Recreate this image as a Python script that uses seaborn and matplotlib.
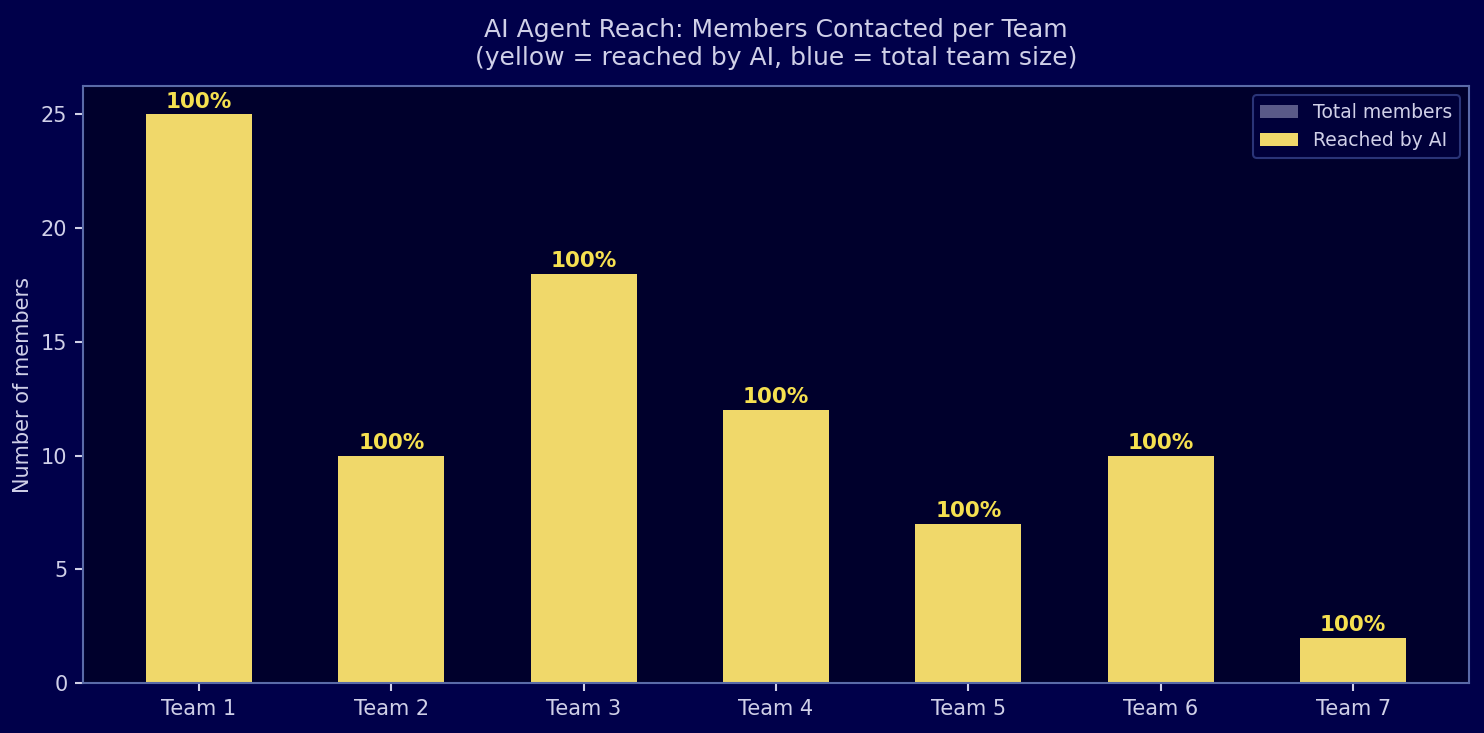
import matplotlib
matplotlib.use("Agg")
import matplotlib.pyplot as plt
import pandas as pd
import seaborn as sns

teams = ["Team 1", "Team 2", "Team 3", "Team 4", "Team 5", "Team 6", "Team 7"]
total_members = [25, 10, 18, 12, 7, 10, 2]
reached_by_ai = [25, 10, 18, 12, 7, 10, 2]

FIG_BG = "#00004a"
AX_BG = "#00002c"
SPINE = "#5a6aa8"
TEXT = "#d0d0e8"
YELLOW = "#f0d86a"
TOTAL = "#5a5a88"
PCT = "#f5e050"

sns.set_theme(style="dark")
plt.rcParams["font.family"] = ["DejaVu Sans"]

df = pd.DataFrame({"team": teams, "total": total_members, "reached": reached_by_ai})

fig, ax = plt.subplots(figsize=(1484 / 150, 733 / 150), dpi=150)
fig.patch.set_facecolor(FIG_BG)
ax.set_facecolor(AX_BG)
fig.subplots_adjust(left=83 / 1484, right=1469 / 1484, top=1 - 86 / 733, bottom=1 - 683 / 733)

# total team size drawn first, reached count on top
sns.barplot(data=df, x="team", y="total", color=TOTAL, width=0.55, saturation=1,
            linewidth=0, label="Total members", ax=ax)
sns.barplot(data=df, x="team", y="reached", color=YELLOW, width=0.55, saturation=1,
            linewidth=0, label="Reached by AI", ax=ax)

# percent labels above each bar
for i, (t, r) in enumerate(zip(total_members, reached_by_ai)):
    pct = 100 * r / t if t else 0
    ax.text(i, r + 0.12, f"{pct:.0f}%", ha="center", va="bottom",
            color=PCT, fontsize=10.3, fontweight="bold")

ax.set_xlim(-0.6025, 6.6025)
ax.set_ylim(0, 26.25)
ax.set_xlabel("")
ax.set_ylabel("Number of members", color=TEXT, fontsize=10)
ax.set_title("AI Agent Reach: Members Contacted per Team\n(yellow = reached by AI, blue = total team size)",
             color=TEXT, fontsize=12, pad=10)

ax.tick_params(colors=TEXT, labelsize=10, length=4, width=1, bottom=True, left=True)
for s in ax.spines.values():
    s.set_color(SPINE)
    s.set_linewidth(1)
ax.grid(False)

leg = ax.legend(loc="upper right", fontsize=9, facecolor="#00003a", edgecolor="#2a3478",
                framealpha=1)
for txt in leg.get_texts():
    txt.set_color(TEXT)

fig.savefig("out.png", dpi=150, facecolor=FIG_BG)
plt.close(fig)
